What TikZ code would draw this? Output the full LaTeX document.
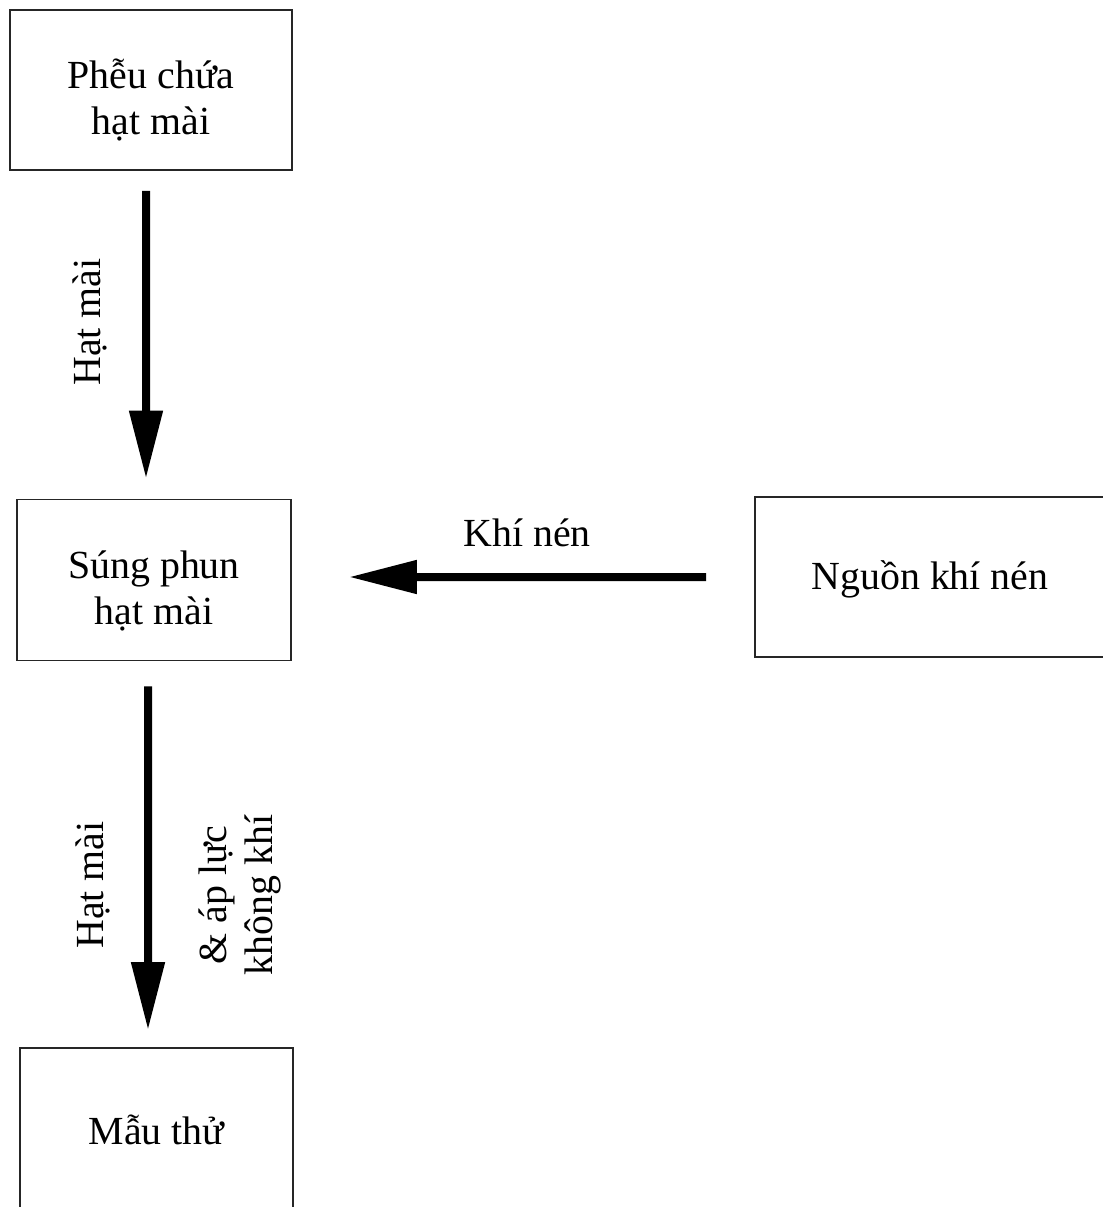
\documentclass[tikz,border=0pt]{standalone}
\usepackage{fontspec}
\setmainfont{Liberation Serif}
\usetikzlibrary{arrows.meta}
\begin{document}
\begin{tikzpicture}[x=1bp,y=-1bp,
  box/.style={draw=black!85,line width=1.8bp,inner sep=0pt,align=center,
    font=\fontsize{40}{46}\selectfont},
  lbl/.style={inner sep=0pt,align=center,font=\fontsize{40}{46}\selectfont},
  flow/.style={line width=8bp,-{Triangle[length=68bp,width=32bp]}}]
\useasboundingbox[fill=white] (0,0) rectangle (1103,1207);
\clip (0,0) rectangle (1103,1207);
\node[box,minimum width=282bp,minimum height=160bp] (phe) at (151,90) {};
\node[lbl] (phet) at (151,100) {Phễu chứa\\hạt mài};
\node[box,minimum width=274bp,minimum height=161bp] (sung) at (154,580) {};
\node[lbl] (sungt) at (154,591) {Súng phun\\hạt mài};
\node[box,minimum width=350bp,minimum height=160bp] (nguon) at (930,577) {};
\node[lbl] (nguont) at (930,579) {Nguồn khí nén};
\node[box,minimum width=273bp,minimum height=164bp] (mau) at (156.5,1130) {Mẫu thử};
\draw[flow,shorten <=20bp,shorten >=20bp] ([xshift=-5bp]phe.south) -- ([xshift=-8bp]sung.north);
\draw[flow,shorten <=48bp,shorten >=57bp] (nguon.west) -- ([yshift=3bp]sung.east);
\draw[flow,shorten <=25bp,shorten >=17bp] ([xshift=-6bp]sung.south) -- ([xshift=-8.5bp]mau.north);
\node[lbl,rotate=90] (l1) at (90,322) {Hạt mài};
\node[lbl] (l2) at (527,533) {Khí nén};
\node[lbl,rotate=90] (l3) at (93,885) {Hạt mài};
\node[lbl,rotate=90] (l4) at (240,895) {\& áp lực\\không khí};
\end{tikzpicture}
\end{document}
